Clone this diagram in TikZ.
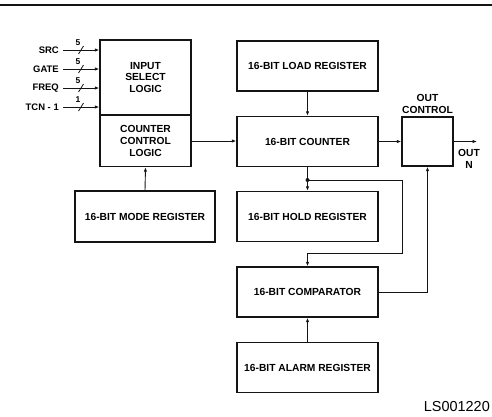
\documentclass[tikz,border=0pt]{standalone}
\usepackage{fontspec}
\setmainfont{Liberation Sans}
\usetikzlibrary{arrows.meta,positioning}
\definecolor{Ink}{HTML}{141414}
\newcommand{\busmark}[3]{%
  \draw[Ink,line width=0.8pt] (#1-2.5,#2+4) -- (#1+2.5,#2-4);
  \node[font=\bfseries\fontsize{8.5}{8.5}\selectfont,inner sep=0pt] at (#1-3,#2-7.5) {#3};
}
\tikzset{
  blk/.style={draw=Ink,line width=1.4pt,minimum width=141bp,minimum height=50bp,
    inner sep=0pt,align=center,font=\bfseries\fontsize{10.3}{12}\selectfont},
  wire/.style={Ink,line width=0.9pt,-{Latex[length=4.5pt,width=3.5pt]}},
  pinlbl/.style={anchor=east,inner sep=0pt,font=\bfseries\fontsize{9.5}{10}\selectfont},
}
\begin{document}
\begin{tikzpicture}[x=1bp,y=-1bp]
  \useasboundingbox (0,0) rectangle (492,416);
  \draw[Ink,line width=1.2pt] (0,5) -- (492,5);
  % left column
  \node[blk,minimum width=91bp,minimum height=75bp] (isl) at (145.5,77.5) {INPUT\\SELECT\\LOGIC};
  \node[blk,minimum width=91bp,minimum height=51bp] (ccl) at (145.5,141) {COUNTER\\CONTROL\\LOGIC};
  \node[blk,minimum width=140bp,minimum height=51bp] (modereg) at (145,216.5) {16-BIT MODE REGISTER};
  % register column
  \node[blk] (loadreg) at (307.5,66) {16-BIT LOAD REGISTER};
  \node[blk] (cntr) at (307.5,141.5) {16-BIT COUNTER};
  \node[blk] (holdreg) at (307.5,216.5) {16-BIT HOLD REGISTER};
  \node[blk] (cmp) at (307.5,292) {16-BIT COMPARATOR};
  \node[blk] (alarmreg) at (307.5,367.5) {16-BIT ALARM REGISTER};
  \node[blk,minimum width=51bp,minimum height=49bp] (outctl) at (427.5,141.5) {};
  \node[blk,draw=none,minimum width=0pt,minimum height=0pt] (outlbl) at (427.5,104) {OUT\\CONTROL};
  % inputs
  \coordinate (src) at (63,50);
  \coordinate (gate) at (63,69);
  \coordinate (freq) at (63,88);
  \coordinate (tcn) at (63,107);
  \node[pinlbl] at (59,50) {SRC};
  \node[pinlbl] at (59,69) {GATE};
  \node[pinlbl] at (59,88) {FREQ};
  \node[pinlbl] at (59,107) {TCN - 1};
  \foreach \p in {src,gate,freq,tcn}
    \draw[wire] (\p) -- (\p -| isl.west);
  \busmark{81}{50}{5}\busmark{81}{69}{5}\busmark{81}{88}{5}\busmark{81}{107}{1}
  % connections
  \draw[wire] (modereg.north) -- (ccl.south);
  \draw[wire] (ccl.east) -- (ccl.east -| cntr.west);
  \draw[wire] (loadreg.south) -- (cntr.north);
  \draw[wire] (cntr.east) -- (outctl.west);
  \coordinate (outn) at (477,141.5);
  \draw[wire] (outctl.east) -- (outn);
  \node[blk,draw=none,minimum width=0pt,minimum height=0pt] (outnlbl) at (469,159) {OUT\\N};
  \coordinate (tap) at (307.5,180);
  \draw[wire] (cntr.south) -- (holdreg.north);
  \fill[Ink] (tap) circle (2);
  \draw[wire] (tap) -- ++(94.5,0) -- ++(0,73) -| (cmp.north);
  \draw[wire] (cmp.east) -| (outctl.south);
  \draw[wire] (alarmreg.north) -- (cmp.south);
  \node[anchor=east,inner sep=0pt,font=\fontsize{14.5}{15}\selectfont] (lsref) at (490,407) {LS001220};
\end{tikzpicture}
\end{document}
